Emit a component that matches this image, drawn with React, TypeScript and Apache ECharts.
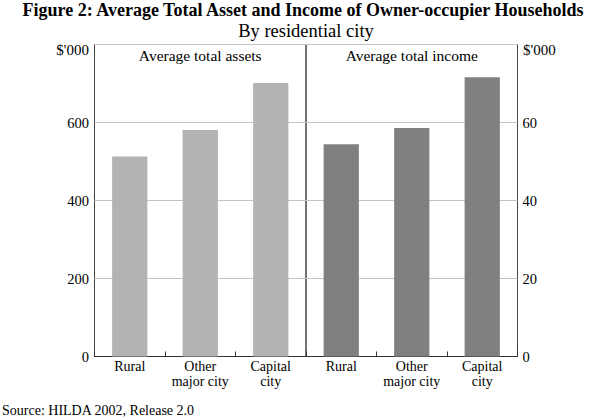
import React, { useEffect, useRef } from "react";
import * as echarts from "echarts";

const categories = ["Rural", "Other\nmajor city", "Capital\ncity"];
const assets = [513, 581, 701];
const income = [54.4, 58.6, 71.6];
const assetTicks = [0, 200, 400, 600];
const incomeTicks = [0, 20, 40, 60];

const FONT = "'Liberation Serif', 'Times New Roman', serif";

export default function App() {
  const ref = useRef<HTMLDivElement>(null);
  useEffect(() => {
    if (!ref.current) return;
    const chart = echarts.init(ref.current, undefined, { renderer: "svg" });
    const gridTop = 44.5;
    const gridH = 312;
    const axisLabel = { fontFamily: FONT, fontSize: 14.5, color: "#000" };
    const xAxisCommon = {
      type: "category" as const,
      data: categories,
      axisLine: { show: true, lineStyle: { color: "#333", width: 1 } },
      axisTick: { show: true, inside: true, length: 5, lineStyle: { color: "#333" } },
      axisLabel: { fontFamily: FONT, fontSize: 14, color: "#000", margin: 3, lineHeight: 14.5, interval: 0 },
      splitLine: { show: false },
    };
    chart.setOption({
      animation: false,
      backgroundColor: "#fff",
      grid: [
        { left: 94.5, top: gridTop, width: 211.5, height: gridH, show: true, borderColor: "#444", borderWidth: 1, backgroundColor: "transparent" },
        { left: 306, top: gridTop, width: 211.5, height: gridH, show: true, borderColor: "#444", borderWidth: 1, backgroundColor: "transparent" },
      ],
      xAxis: [
        { ...xAxisCommon, gridIndex: 0 },
        { ...xAxisCommon, gridIndex: 1 },
      ],
      yAxis: [
        {
          type: "value", gridIndex: 0, min: 0, max: 800, interval: 200, position: "left",
          axisLine: { show: false }, axisTick: { show: false },
          axisLabel: { ...axisLabel, margin: 5.5, formatter: (v: number) => (assetTicks.includes(v) ? String(v) : "") },
          splitLine: { show: true, lineStyle: { color: "#c4c4c4", width: 1 } },
        },
        {
          type: "value", gridIndex: 1, min: 0, max: 80, interval: 20, position: "right",
          axisLine: { show: false }, axisTick: { show: false },
          axisLabel: { ...axisLabel, margin: 5, formatter: (v: number) => (incomeTicks.includes(v) ? String(v) : "") },
          splitLine: { show: true, lineStyle: { color: "#c4c4c4", width: 1 } },
        },
      ],
      series: [
        { type: "bar", xAxisIndex: 0, yAxisIndex: 0, data: assets, barWidth: "50%", itemStyle: { color: "#b3b3b3" } },
        { type: "bar", xAxisIndex: 1, yAxisIndex: 1, data: income, barWidth: "50%", itemStyle: { color: "#808080" } },
      ],
      graphic: [
        { type: "text", x: 303, y: 10, style: { text: "Figure 2: Average Total Asset and Income of Owner-occupier Households", font: `bold 18px ${FONT}`, fill: "#000", align: "center", verticalAlign: "middle" } },
        { type: "text", x: 306, y: 31, style: { text: "By residential city", font: `18.5px ${FONT}`, fill: "#000", align: "center", verticalAlign: "middle" } },
        { type: "text", x: 89, y: 50, style: { text: "$'000", font: `15px ${FONT}`, fill: "#000", align: "right", verticalAlign: "middle" } },
        { type: "text", x: 523, y: 50, style: { text: "$'000", font: `15px ${FONT}`, fill: "#000", align: "left", verticalAlign: "middle" } },
        { type: "text", x: 200.25, y: 55.5, style: { text: "Average total assets", font: `15.5px ${FONT}`, fill: "#000", align: "center", verticalAlign: "middle" } },
        { type: "text", x: 411.75, y: 55.5, style: { text: "Average total income", font: `15.5px ${FONT}`, fill: "#000", align: "center", verticalAlign: "middle" } },
        { type: "text", x: 2, y: 410, style: { text: "Source: HILDA 2002, Release 2.0", font: `14px ${FONT}`, fill: "#000", align: "left", verticalAlign: "middle" } },
      ],
    });
    return () => chart.dispose();
  }, []);
  return <div ref={ref} style={{ position: "fixed", left: 0, top: 0, width: 600, height: 419 }} />;
}
